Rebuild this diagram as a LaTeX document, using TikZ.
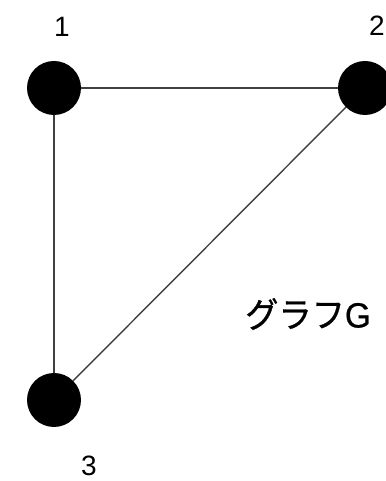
\documentclass[tikz,border=0pt]{standalone}
\usepackage{fontspec}
\setmainfont{Liberation Sans}
\newfontfamily\cjk{Noto Sans CJK JP}
\begin{document}
\begin{tikzpicture}[x=1pt,y=1pt,
  vtx/.style={circle,fill=black,minimum size=54pt,inner sep=0pt},
  lbl/.style={font=\fontsize{28}{30}\selectfont,inner sep=0pt},
  edge/.style={draw=black!75,line width=1.4pt}]
\useasboundingbox (0,0) rectangle (385,481);
\node[vtx] (n1) at (54,393) {};
\node[vtx] (n2) at (365,393) {};
\node[vtx] (n3) at (54,81) {};
\draw[edge] (n1) -- (n2);
\draw[edge] (n1) -- (n3);
\draw[edge] (n2) -- (n3);
\node[lbl] (l1) at (62,454) {1};
\node[lbl] (l2) at (377,455) {2};
\node[lbl] (l3) at (89,15) {3};
\node[inner sep=0pt,font=\fontsize{35}{37}\selectfont] (g) at (308,167) {\scalebox{0.95}[1]{{\cjk\addfontfeature{FakeBold=0.8}グラフ}{\addfontfeature{FakeBold=0.6}G}}};
\end{tikzpicture}
\end{document}
